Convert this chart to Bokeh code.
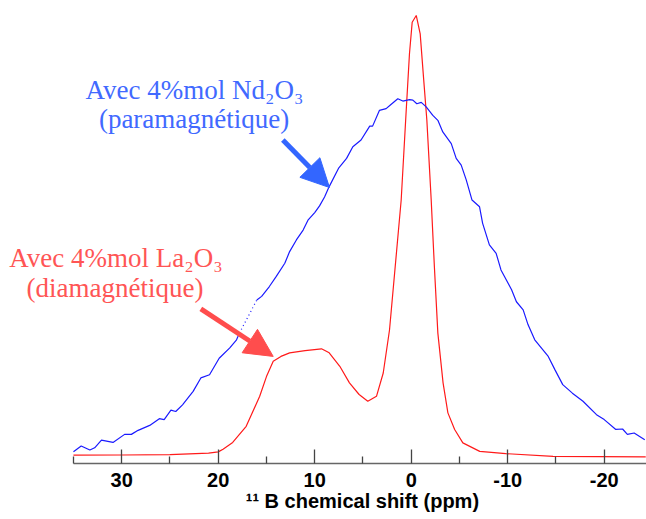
from bokeh.plotting import figure
from bokeh.models import Range1d, FixedTicker, Arrow, NormalHead, Label
from bokeh.embed import file_html
from bokeh.resources import INLINE

# --- data (ppm, relative intensity) ---
red_ppm = [35, 30, 25, 21, 20, 19.5, 18.5, 17.1, 15.7, 15.0, 14.3, 13.5, 12.6, 11.0, 9.3, 8.5,
           7.4, 6.4, 5.4, 4.5, 3.6, 2.9, 2.25, 1.04, 0.52, 0.18, -0.1, -0.52, -0.93, -1.27,
           -1.62, -2.07, -2.4, -2.76, -3.3, -3.8, -4.5, -5.35, -7.1, -9.8, -14.7, -24.3]
red_int = [1.85, 1.9, 2.0, 2.3, 2.6, 3.2, 4.7, 8.3, 15.0, 19.4, 22.8, 23.9, 24.7, 25.2, 25.6, 24.7,
           21.7, 18.0, 15.4, 13.9, 15.0, 20.2, 29.8, 58.8, 78.8, 91.5, 98.5, 100, 95.9, 86.3,
           76.6, 58.8, 43.9, 29.1, 18.0, 11.3, 7.6, 4.6, 2.7, 2.2, 1.6, 1.5]

blue1_ppm = [35.0, 34.2, 33.3, 32.8, 32.1, 30.9, 29.7, 29.0, 28.3, 27.1, 26.1, 25.6, 24.9, 24.4,
             23.7, 22.6, 21.8, 20.9, 19.9, 18.8, 18.1, 17.8]
blue1_int = [2.6, 3.9, 3.0, 3.5, 5.2, 4.7, 6.5, 6.5, 7.4, 8.5, 10.0, 9.8, 11.9, 11.6,
             13.1, 16.1, 19.1, 19.8, 23.5, 25.8, 27.6, 29.1]
blue2_ppm = [16.0, 15.5, 14.7, 14.0, 13.1, 12.6, 11.9, 11.2, 10.7, 10.0, 9.5, 8.98, 8.5, 7.5, 6.7,
             6.05, 5.2, 4.3, 4.0, 3.3, 2.6, 2.07, 1.39, 0.87, 0.18, -0.17, -0.58, -1.04, -1.55,
             -2.24, -2.76, -3.27, -4.15, -4.66, -5.18, -5.7, -6.3, -7.08, -7.4, -8.1, -8.8, -9.3,
             -10.4, -10.9, -11.6, -12.1, -12.8, -14.2, -14.9, -15.7, -16.7, -17.8, -19.2, -20.0,
             -21.2, -21.9, -22.4, -23.1, -24.2]
blue2_int = [36.5, 37.3, 39.5, 41.7, 44.7, 47.3, 49.9, 52.1, 54.3, 56.0, 57.5, 59.5, 61.8, 66.0, 68.1,
             70.7, 72.2, 75.3, 75.3, 78.8, 79.2, 80.2, 81.4, 80.9, 81.2, 81.1, 80.3, 80.6, 79.6,
             77.7, 76.6, 74.0, 71.4, 68.1, 66.6, 63.3, 58.8, 57.3, 53.6, 48.8, 46.9, 43.2,
             38.8, 36.1, 34.3, 31.0, 27.6, 23.9, 20.9, 17.6, 15.7, 13.9, 10.9, 9.8,
             7.6, 7.7, 6.5, 6.8, 5.3]

major_ticks = [30, 20, 10, 0, -10, -20]
minor_ticks = [35, 25, 15, 5, -5, -15]
tick_labels = {30: "30", 20: "20", 10: "10", 0: "0", -10: "-10", -20: "-20"}

blue_text = ["Avec 4%mol Nd\u2082O\u2083", "(paramagn\u00e9tique)"]
red_text = ["Avec 4%mol La\u2082O\u2083", "(diamagn\u00e9tique)"]
x_title = "\u00b9\u00b9 B chemical shift (ppm)"

BLUE_LINE = "#1a1aff"
RED_LINE = "#ff1a1a"
BLUE_TXT = "#4169ff"
RED_TXT = "#ff5555"

X_LEFT = 42.56
X_RIGHT = -24.38
p = figure(width=646, height=519, output_backend="svg", toolbar_location=None,
           x_range=Range1d(X_LEFT, X_RIGHT), y_range=Range1d(0, 103.34),
           min_border_left=0, min_border_right=0, min_border_top=0, min_border_bottom=56)
p.outline_line_color = None
p.grid.visible = False
p.yaxis.visible = False

ax = p.xaxis[0]
ax.bounds = (X_RIGHT, 35)
ax.ticker = FixedTicker(ticks=major_ticks, minor_ticks=minor_ticks)
ax.major_label_overrides = tick_labels
ax.major_tick_in = 14
ax.major_tick_out = 0
ax.minor_tick_in = 7
ax.minor_tick_out = 0
ax.axis_line_color = "#666666"
ax.axis_line_width = 1.5
ax.major_tick_line_color = "#444444"
ax.major_tick_line_width = 1.3
ax.minor_tick_line_color = "#444444"
ax.minor_tick_line_width = 1.3
ax.major_label_text_font = "Liberation Sans"
ax.major_label_text_font_style = "bold"
ax.major_label_text_font_size = "20px"
ax.major_label_text_color = "black"
ax.major_label_standoff = 9
# leading no-break spaces shift the centred title right, as in the original
ax.axis_label = "\u00a0" * 14 + x_title
ax.axis_label_text_font = "Liberation Sans"
ax.axis_label_text_font_style = "bold"
ax.axis_label_text_font_size = "20px"
ax.axis_label_text_color = "black"
ax.axis_label_standoff = 0

p.line(red_ppm, red_int, line_color=RED_LINE, line_width=1.2)
p.line(blue1_ppm, blue1_int, line_color=BLUE_LINE, line_width=1.2)
p.line(blue2_ppm, blue2_int, line_color=BLUE_LINE, line_width=1.2)
p.line([blue1_ppm[-1], blue2_ppm[0]], [blue1_int[-1], blue2_int[0]],
       line_color=BLUE_LINE, line_width=1.2, line_dash="1 3")

# annotations
for txt, (x, y) in zip(blue_text, [(22.46, 83.3), (22.5, 77.0)]):
    p.add_layout(Label(x=x, y=y, text=txt, text_align="center", text_baseline="alphabetic",
                       text_font="Liberation Serif", text_font_size="27px", text_color=BLUE_TXT))
for txt, (x, y) in zip(red_text, [(30.6, 45.8), (30.7, 39.1)]):
    p.add_layout(Label(x=x, y=y, text=txt, text_align="center", text_baseline="alphabetic",
                       text_font="Liberation Serif", text_font_size="27px", text_color=RED_TXT))

p.add_layout(Arrow(end=NormalHead(size=28, fill_color="#3366ff", line_color="#3366ff"),
                   x_start=13.3, y_start=72.2, x_end=8.47, y_end=61.6,
                   line_color="#3366ff", line_width=5))
p.add_layout(Arrow(end=NormalHead(size=28, fill_color="#ff4d4d", line_color="#ff4d4d"),
                   x_start=21.8, y_start=34.5, x_end=14.3, y_end=23.9,
                   line_color="#ff4d4d", line_width=5))

open("out.html", "w").write(file_html(p, INLINE))
